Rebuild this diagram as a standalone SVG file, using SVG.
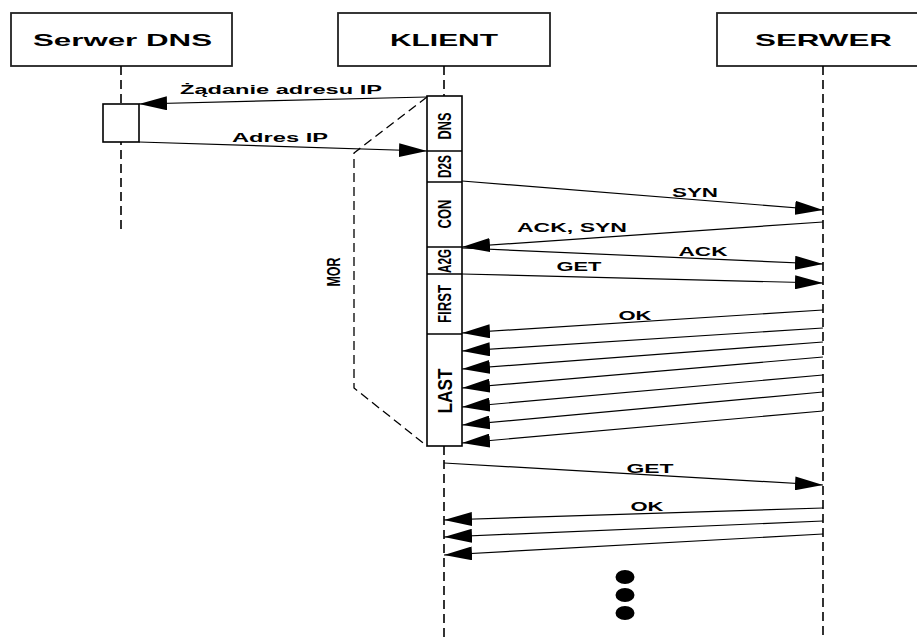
<svg xmlns="http://www.w3.org/2000/svg" width="917" height="640" viewBox="0 0 917 640">
<style>
.box{fill:#fff;stroke:#222;stroke-width:1.8}
.life{fill:none;stroke:#000;stroke-width:1.6;stroke-dasharray:9 5}
.act{fill:#fff;stroke:#000;stroke-width:1.6}
.msg{fill:none;stroke:#000;stroke-width:1.2;marker-end:url(#ah)}
.hdr{font-family:"Liberation Sans",Arial,sans-serif;font-weight:bold;font-size:17px;text-anchor:middle;fill:#000}
.lbl{font-family:"Liberation Sans",Arial,sans-serif;font-weight:bold;font-size:12.5px;text-anchor:middle;fill:#000}
.ph{font-family:"Liberation Sans",Arial,sans-serif;font-weight:bold;font-size:18.5px;text-anchor:middle;fill:#000}
</style>
<defs>
<marker id="ah" markerUnits="userSpaceOnUse" markerWidth="28" markerHeight="14" refX="28" refY="7" orient="auto">
<path d="M0,0 L28,7 L0,14 z" fill="#000"/>
</marker>
</defs>
<rect width="917" height="640" fill="#fff"/>

<g id="serwer-dns">
<rect class="box" x="11" y="13" width="221" height="53"/>
<text class="hdr" x="122.5" y="45.5" textLength="179" lengthAdjust="spacingAndGlyphs">Serwer DNS</text>
<line class="life" x1="121" y1="66" x2="121" y2="232"/>
<rect class="act" x="103" y="104" width="36" height="38"/>
</g>

<g id="klient">
<rect class="box" x="338" y="13" width="212" height="53"/>
<text class="hdr" x="444" y="45.5" textLength="108" lengthAdjust="spacingAndGlyphs">KLIENT</text>
<line class="life" x1="444" y1="66" x2="444" y2="97"/>
<line class="life" x1="444" y1="446" x2="444" y2="640"/>
</g>

<g id="serwer">
<rect class="box" x="717" y="13" width="212" height="53"/>
<text class="hdr" x="823.5" y="45.5" textLength="137" lengthAdjust="spacingAndGlyphs">SERWER</text>
<line class="life" x1="823" y1="66" x2="823" y2="640"/>
</g>

<g id="klient-activation">
<rect class="act" x="427" y="96" width="35" height="350"/>
<line class="act" x1="427" y1="151" x2="462" y2="151"/>
<line class="act" x1="427" y1="182" x2="462" y2="182"/>
<line class="act" x1="427" y1="247" x2="462" y2="247"/>
<line class="act" x1="427" y1="274" x2="462" y2="274"/>
<line class="act" x1="427" y1="334" x2="462" y2="334"/>
<text class="ph" transform="translate(450.5,126) rotate(-90)" textLength="27" lengthAdjust="spacingAndGlyphs">DNS</text>
<text class="ph" transform="translate(450.5,166.5) rotate(-90)" textLength="23" lengthAdjust="spacingAndGlyphs">D2S</text>
<text class="ph" transform="translate(450.5,214) rotate(-90)" textLength="29" lengthAdjust="spacingAndGlyphs">CON</text>
<text class="ph" transform="translate(450.5,261) rotate(-90)" textLength="24" lengthAdjust="spacingAndGlyphs">A2G</text>
<text class="ph" transform="translate(450.5,304) rotate(-90)" textLength="38" lengthAdjust="spacingAndGlyphs">FIRST</text>
<text class="ph" transform="translate(452,391) rotate(-90)" style="font-size:21px" textLength="45" lengthAdjust="spacingAndGlyphs">LAST</text>
</g>

<g id="mor">
<path d="M427,97 L354,153 V388 L427,446" fill="none" stroke="#000" stroke-width="1.3" stroke-dasharray="9 5"/>
<text class="ph" transform="translate(340,272) rotate(-90)" textLength="29" lengthAdjust="spacingAndGlyphs">MOR</text>
</g>

<g id="connectors">
<line class="msg" x1="427" y1="97" x2="139" y2="104"/>
<line class="msg" x1="139" y1="142" x2="427" y2="151"/>
<line class="msg" x1="462" y1="181" x2="823" y2="210"/>
<line class="msg" x1="823" y1="222" x2="462" y2="247"/>
<line class="msg" x1="462" y1="248" x2="823" y2="264"/>
<line class="msg" x1="462" y1="274" x2="823" y2="283"/>
<line class="msg" x1="823" y1="310" x2="462" y2="333"/>
<line class="msg" x1="823" y1="328" x2="462" y2="351"/>
<line class="msg" x1="823" y1="342" x2="462" y2="369"/>
<line class="msg" x1="823" y1="357" x2="462" y2="388"/>
<line class="msg" x1="823" y1="375" x2="462" y2="407"/>
<line class="msg" x1="823" y1="392" x2="462" y2="425"/>
<line class="msg" x1="823" y1="411" x2="462" y2="443"/>
<line class="msg" x1="444" y1="463" x2="823" y2="485"/>
<line class="msg" x1="823" y1="508" x2="444" y2="520"/>
<line class="msg" x1="823" y1="521" x2="444" y2="537"/>
<line class="msg" x1="823" y1="534" x2="444" y2="555"/>
<text class="lbl" x="281" y="94" textLength="202" lengthAdjust="spacingAndGlyphs">Żądanie adresu IP</text>
<text class="lbl" x="280" y="141.5" textLength="96" lengthAdjust="spacingAndGlyphs">Adres IP</text>
<text class="lbl" x="695" y="196.5" textLength="46" lengthAdjust="spacingAndGlyphs">SYN</text>
<text class="lbl" x="572" y="231.5" textLength="110" lengthAdjust="spacingAndGlyphs">ACK, SYN</text>
<text class="lbl" x="703" y="255.5" textLength="49" lengthAdjust="spacingAndGlyphs">ACK</text>
<text class="lbl" x="579" y="271" textLength="45" lengthAdjust="spacingAndGlyphs">GET</text>
<text class="lbl" x="635" y="320" textLength="33" lengthAdjust="spacingAndGlyphs">OK</text>
<text class="lbl" x="650" y="472.5" textLength="47" lengthAdjust="spacingAndGlyphs">GET</text>
<text class="lbl" x="647" y="510.5" textLength="33" lengthAdjust="spacingAndGlyphs">OK</text>
</g>

<g id="ellipsis">
<ellipse cx="625" cy="577" rx="9.5" ry="7" fill="#000"/>
<ellipse cx="625" cy="595" rx="9.5" ry="7" fill="#000"/>
<ellipse cx="625" cy="613" rx="9.5" ry="7" fill="#000"/>
</g>
</svg>
